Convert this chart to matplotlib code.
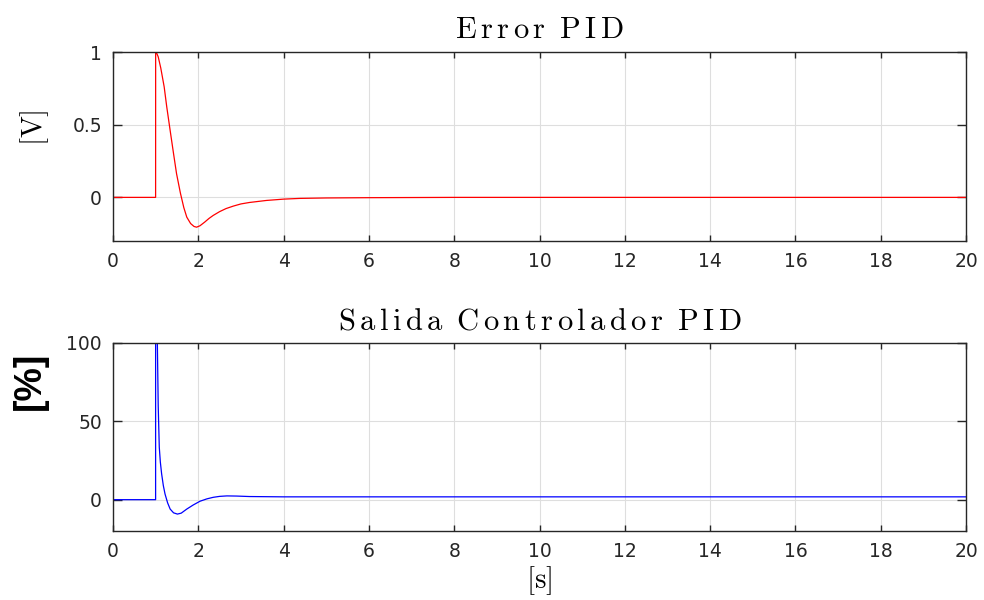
import numpy as np
import matplotlib
matplotlib.use("Agg")
import matplotlib.pyplot as plt

plt.rcParams['mathtext.fontset'] = 'cm'
plt.rcParams['font.family'] = ['DejaVu Sans']

# Error signal samples (time [s], error [V])
t_err = [0.0, 0.999, 1.0, 1.02, 1.06, 1.12, 1.2, 1.26, 1.35, 1.42, 1.49, 1.58,
         1.66, 1.73, 1.82, 1.9, 1.96, 2.04, 2.15, 2.25, 2.35, 2.5, 2.65, 2.82,
         3.0, 3.2, 3.6, 4.0, 4.38, 5.0, 6.0, 7.0, 8.0, 20.0]
err = [0.0, 0.0, 1.0, 0.995, 0.967, 0.89, 0.76, 0.623, 0.44, 0.30, 0.163, 0.03,
       -0.07, -0.136, -0.18, -0.2, -0.205, -0.195, -0.17, -0.145, -0.124, -0.098,
       -0.077, -0.06, -0.045, -0.035, -0.021, -0.012, -0.007, -0.004, -0.002,
       -0.001, 0.0, 0.0]

# Controller output samples (time [s], output [%])
t_u = [0.0, 0.999, 1.0, 1.03, 1.06, 1.085, 1.11, 1.14, 1.18, 1.22, 1.28, 1.34,
       1.42, 1.51, 1.6, 1.73, 1.88, 2.04, 2.2, 2.35, 2.5, 2.67, 2.9, 3.2, 3.6,
       4.0, 5.0, 20.0]
u = [0.0, 0.0, 300.0, 120.0, 60.0, 33.5, 24.0, 16.5, 9.0, 3.6, -2.0, -6.0,
     -8.4, -9.2, -8.6, -6.0, -3.4, -1.0, 0.5, 1.5, 2.1, 2.4, 2.3, 2.0, 1.9,
     1.8, 1.8, 1.8]

x_ticks = [0, 2, 4, 6, 8, 10, 12, 14, 16, 18, 20]
err_ticks = [0, 0.5, 1]
u_ticks = [0, 50, 100]

title_err = 'Error PID'
title_u = 'Salida Controlador PID'


def spaced_math(s):
    # roman math text with a little tracking between letters
    words = [r'\,'.join(w) for w in s.split(' ')]
    return r'$\mathrm{' + r'\ \:'.join(words) + '}$'


ink = '#262626'
fig = plt.figure(figsize=(9.84, 6.0), dpi=100)
W, H = 984, 600
ax1 = fig.add_axes([113 / W, 1 - 241 / H, 853 / W, 189 / H])
ax2 = fig.add_axes([113 / W, 1 - 531 / H, 853 / W, 188 / H])


def style(ax):
    ax.set_xlim(0, 20)
    ax.set_xticks(x_ticks)
    ax.grid(True, color='#dedede', linewidth=0.8)
    ax.set_axisbelow(True)
    for s in ax.spines.values():
        s.set_color(ink)
        s.set_linewidth(1.0)
    ax.tick_params(axis='both', direction='in', top=True, right=True,
                   colors=ink, labelsize=13.5, width=1.0)
    ax.tick_params(axis='x', length=4.5, pad=8)
    ax.tick_params(axis='y', length=6.5, pad=8)


ax1.plot(t_err, err, color='#ff0000', linewidth=0.9)
ax1.set_ylim(-0.3, 1)
ax1.set_yticks(err_ticks)
ax1.set_yticklabels(['0', '0.5', '1'])
style(ax1)
ax1.set_title(spaced_math(title_err), fontsize=22, pad=10)
ax1.set_ylabel(r'$\mathrm{[V]}$', fontsize=21)
ax1.yaxis.set_label_coords(-0.0725, 0.6)

ax2.plot(t_u, u, color='#0000ff', linewidth=0.9)
ax2.set_ylim(-20, 100)
ax2.set_yticks(u_ticks)
style(ax2)
ax2.set_title(spaced_math(title_u), fontsize=22, pad=10)
ax2.set_ylabel('[%]', fontsize=27, fontweight='bold',
               family=['Liberation Sans Narrow', 'Liberation Sans', 'DejaVu Sans'])
ax2.yaxis.set_label_coords(-0.076, 0.8)
ax2.set_xlabel(r'$\mathrm{[s]}$', fontsize=21, labelpad=2)

fig.savefig('out.png', dpi=100, facecolor='white')
